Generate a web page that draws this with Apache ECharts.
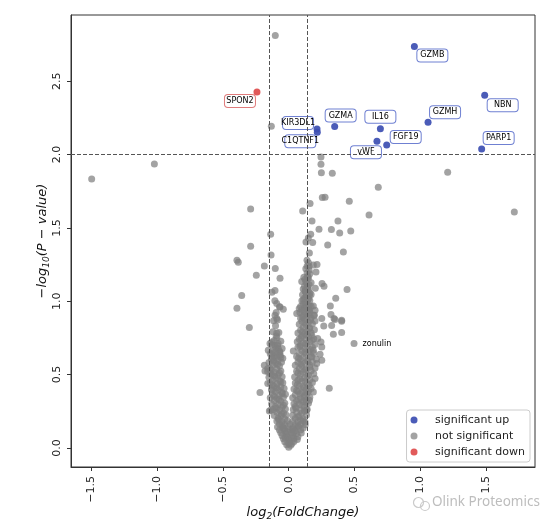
<!DOCTYPE html>
<html><head><meta charset="utf-8">
<script src="https://cdn.jsdelivr.net/npm/echarts@6/dist/echarts.min.js"></script>
<style>html,body{margin:0;padding:0;background:#fff}#c{width:554px;height:522px}</style>
</head><body><div id="c"></div>
<script>
// ---------- data ----------
const upGenes = ['GZMB','NBN','GZMH','IL16','GZMA','KIR3DL1','C1QTNF1','FGF19','vWF','PARP1'];
const upLog2FC = [0.954,1.488,1.058,0.696,0.349,0.215,0.217,0.744,0.670,1.465];
const upNegLog10P = [2.738,2.404,2.220,2.177,2.191,2.175,2.152,2.066,2.091,2.038];

const downGenes = ['SPON2'];
const downLog2FC = [-0.241];
const downNegLog10P = [2.427];

const annotatedNsName = 'zonulin';
const annotatedNsLog2FC = 0.496;
const annotatedNsNegLog10P = 0.712;

// not significant: [log2FC, -log10P]
const nsScattered = [
[-0.102,2.813],[-0.132,2.193],[-1.020,1.936],[0.245,1.984],[0.245,1.934],[-1.496,1.834],[0.248,1.877],[0.331,1.873],[1.207,1.879],[0.680,1.777],
[0.255,1.707],[0.276,1.709],[0.460,1.682],[0.162,1.666],[0.106,1.616],[-0.289,1.629],[1.713,1.609],[0.610,1.588],[0.177,1.547],[0.374,1.547],
[0.230,1.491],[0.324,1.489],[0.387,1.466],[0.471,1.479],[-0.137,1.457],[0.167,1.457],[0.149,1.432],[0.131,1.404],[0.182,1.400],[0.296,1.384],
[-0.289,1.375],[0.415,1.336],[0.157,1.329],[-0.134,1.316],[-0.393,1.280],[-0.383,1.266],[0.139,1.280],[-0.185,1.241],[0.154,1.239],[0.215,1.250],
[0.187,1.247],[-0.102,1.223],[0.207,1.200],[-0.246,1.177],[-0.066,1.157],[0.144,1.164],[0.099,1.134],[0.137,1.121],[0.253,1.121],[0.268,1.102],
[0.202,1.089],[0.443,1.080],[-0.127,1.061],[-0.104,1.073],[0.124,1.070],[0.157,1.039],[0.131,1.029],[-0.357,1.039],[0.357,1.020],[0.111,1.011],
[0.316,0.968],[-0.393,0.952],[-0.091,0.984],[-0.066,0.961],[-0.041,0.945],[0.080,0.950],[0.124,0.961],[0.157,0.939],[0.187,0.968],[0.200,0.939],
[0.321,0.909],[0.344,0.882],[0.402,0.870],[0.061,0.916],[-0.104,0.905],[-0.091,0.882],[0.251,0.882],[-0.299,0.821],[-0.091,0.784],[0.195,0.905],
[0.351,0.875],[0.402,0.864],[0.266,0.832],[0.326,0.834],[0.402,0.787],[0.339,0.775],[0.245,0.723],[0.220,0.746],[0.251,0.689],[0.238,0.639],
[0.187,0.666],[0.035,0.661],[-0.129,0.723],[-0.104,0.700],[-0.079,0.678],[-0.129,0.643],[-0.091,0.620],[-0.066,0.654],[-0.218,0.378],[-0.159,0.439],
[0.308,0.407],[-0.147,0.252],[-0.185,0.564],[-0.159,0.541],[-0.180,0.525],[0.187,0.382],[0.251,0.598],[0.213,0.575],[0.175,0.620],[0.157,0.325],
[0.200,0.473],[0.137,0.257],[0.124,0.177],[-0.142,0.712],[-0.155,0.666],[-0.142,0.507],[-0.129,0.393],[-0.137,0.257]
];
const nsRightArm = [
[0.05,0.201],[0.11,0.197],[0.03,0.223],[0.08,0.218],[0.135,0.224],[0.06,0.243],[0.10,0.238],[0.035,0.262],[0.09,0.257],[0.14,0.264],
[0.05,0.283],[0.12,0.278],[0.04,0.302],[0.08,0.298],[0.15,0.305],[0.06,0.322],[0.11,0.317],[0.13,0.326],[0.03,0.343],[0.09,0.338],
[0.16,0.345],[0.05,0.362],[0.12,0.357],[0.07,0.384],[0.10,0.378],[0.15,0.386],[0.04,0.401],[0.13,0.397],[0.17,0.405],[0.08,0.422],
[0.11,0.417],[0.05,0.443],[0.14,0.438],[0.18,0.446],[0.07,0.462],[0.10,0.457],[0.16,0.465],[0.045,0.483],[0.12,0.478],[0.09,0.502],
[0.15,0.497],[0.19,0.505],[0.06,0.523],[0.11,0.518],[0.17,0.526],[0.08,0.542],[0.13,0.537],[0.20,0.545],[0.05,0.563],[0.10,0.558],
[0.16,0.566],[0.07,0.584],[0.12,0.578],[0.18,0.586],[0.09,0.603],[0.14,0.597],[0.21,0.605],[0.06,0.624],[0.11,0.618],[0.17,0.627],
[0.08,0.643],[0.13,0.638],[0.19,0.646],[0.10,0.663],[0.15,0.657],[0.07,0.684],[0.12,0.678],[0.18,0.686],[0.09,0.703],[0.14,0.697],
[0.20,0.705],[0.065,0.724],[0.11,0.718],[0.16,0.726],[0.08,0.743],[0.13,0.737],[0.19,0.745],[0.10,0.764],[0.15,0.758],[0.175,0.766],
[0.07,0.783],[0.12,0.778],[0.17,0.786],[0.09,0.803],[0.14,0.797],[0.195,0.805],[0.11,0.823],[0.16,0.817],[0.08,0.844],[0.13,0.838],
[0.18,0.846],[0.10,0.863],[0.15,0.857],[0.20,0.865],[0.09,0.884],[0.12,0.878],[0.17,0.886],[0.11,0.903],[0.14,0.897],[0.19,0.905],
[0.085,0.924],[0.13,0.918],[0.16,0.926],[0.10,0.943],[0.15,0.937],[0.09,0.964],[0.12,0.958],[0.17,0.966],[0.11,0.983],[0.14,0.977],
[0.10,1.003],[0.13,0.997],[0.16,1.005],[0.12,1.023],[0.15,1.017],[0.105,1.044],[0.14,1.038],[0.17,1.046],[0.13,1.063],[0.16,1.057],
[0.11,1.083],[0.15,1.077],[0.12,1.103],[0.14,1.097],[0.13,1.133],[0.17,1.127],[0.115,1.163],[0.15,1.157],[0.14,1.193],[0.16,1.187],
[0.13,1.222],[0.15,1.262],
[0.07,0.212],[0.12,0.251],[0.055,0.272],[0.10,0.291],[0.13,0.311],[0.075,0.331],[0.12,0.349],[0.085,0.369],[0.14,0.372],[0.06,0.392],
[0.115,0.409],[0.155,0.428],[0.065,0.431],[0.125,0.451],[0.085,0.472],[0.14,0.489],[0.07,0.511],[0.125,0.529],[0.16,0.551],[0.095,0.571],
[0.145,0.591],[0.075,0.612],[0.125,0.652],[0.165,0.671],[0.085,0.691],[0.13,0.712],[0.175,0.732],[0.095,0.752],[0.14,0.771],[0.105,0.792],
[0.155,0.812],[0.125,0.852],[0.165,0.872],[0.105,0.892],[0.145,0.911],[0.115,0.932],[0.135,0.952],[0.155,0.972],[0.125,0.991],[0.145,1.012],
[0.135,1.052],[0.125,1.072],[0.145,1.092],[0.155,1.112],[0.125,1.151],[0.145,1.171],[0.155,1.211],[0.14,1.241]
];
const nsLeftArm = [
[-0.08,0.203],[-0.03,0.198],[-0.11,0.222],[-0.06,0.217],[-0.02,0.225],[-0.09,0.243],[-0.04,0.238],[-0.12,0.262],[-0.07,0.257],[-0.025,0.265],
[-0.10,0.283],[-0.05,0.278],[-0.13,0.302],[-0.08,0.297],[-0.03,0.305],[-0.11,0.323],[-0.06,0.318],[-0.14,0.342],[-0.09,0.337],[-0.04,0.345],
[-0.12,0.363],[-0.07,0.358],[-0.025,0.366],[-0.10,0.383],[-0.05,0.378],[-0.13,0.402],[-0.08,0.397],[-0.035,0.405],[-0.11,0.423],[-0.06,0.418],
[-0.14,0.442],[-0.09,0.437],[-0.045,0.445],[-0.12,0.463],[-0.07,0.458],[-0.15,0.482],[-0.10,0.477],[-0.05,0.485],[-0.13,0.503],[-0.08,0.498],
[-0.16,0.522],[-0.11,0.517],[-0.06,0.525],[-0.14,0.543],[-0.09,0.538],[-0.12,0.563],[-0.07,0.558],[-0.15,0.582],[-0.10,0.577],[-0.055,0.585],
[-0.13,0.603],[-0.08,0.598],[-0.11,0.623],[-0.06,0.618],[-0.14,0.643],[-0.09,0.638],[-0.12,0.663],[-0.07,0.658],[-0.10,0.683],[-0.05,0.678],
[-0.13,0.703],[-0.085,0.698],[-0.11,0.733],[-0.06,0.727],[-0.095,0.763],[-0.12,0.793],[-0.075,0.787],[-0.10,0.833],[-0.085,0.873],[-0.115,0.867],
[-0.095,0.923],[-0.07,0.963],[-0.105,1.003],
[-0.055,0.232],[-0.095,0.271],[-0.04,0.291],[-0.075,0.331],[-0.11,0.352],[-0.05,0.371],[-0.09,0.411],[-0.125,0.431],[-0.06,0.451],[-0.105,0.491],
[-0.07,0.511],[-0.135,0.531],[-0.085,0.571],[-0.115,0.592],[-0.065,0.632],[-0.105,0.652],[-0.08,0.712],[-0.13,0.612],[-0.045,0.611],[-0.09,0.751]
];
const nsBottom = [
[-0.09,0.183],[-0.05,0.178],[-0.01,0.185],[0.03,0.181],[0.07,0.176],[0.11,0.184],[-0.07,0.163],[-0.03,0.158],[0.01,0.164],[0.05,0.157],
[0.09,0.162],[0.125,0.158],[-0.085,0.143],[-0.045,0.137],[-0.005,0.144],[0.035,0.138],[0.075,0.142],[0.11,0.136],[-0.07,0.123],[-0.03,0.118],
[0.01,0.124],[0.05,0.117],[0.09,0.122],[-0.06,0.103],[-0.02,0.097],[0.02,0.104],[0.06,0.098],[0.095,0.102],[-0.05,0.083],[-0.01,0.078],
[0.03,0.084],[0.07,0.077],[-0.04,0.063],[0.0,0.058],[0.04,0.064],[0.065,0.057],[-0.03,0.043],[0.01,0.038],[0.04,0.044],[-0.015,0.022],
[0.015,0.018],[0.0,0.005],
[-0.075,0.192],[0.09,0.191],[-0.05,0.151],[0.07,0.149],[-0.035,0.131],[0.03,0.129],[-0.01,0.109],[0.04,0.111],[-0.025,0.071],[0.02,0.069],
[0.0,0.031],[0.025,0.03]
];

const xTicks = [-1.5,-1.0,-0.5,0.0,0.5,1.0,1.5];
const yTicks = [0.0,0.5,1.0,1.5,2.0,2.5];
const fcThresholds = [-0.152, 0.1375];
const pThreshold = 2;

// ---------- styles ----------
const labelOffsets = {
  GZMB:[18,9], NBN:[18,10], GZMH:[17,-10], IL16:[0,-12], GZMA:[6,-11],
  KIR3DL1:[-19,-6], C1QTNF1:[-17,9], FGF19:[19,-8], vWF:[-11,11], PARP1:[17,-11], SPON2:[-17,9]
};
const FONT = 'DejaVu Sans';
const fmt = v => (Math.abs(v) < 1e-9 ? '0.0' : v.toFixed(1).replace('-', '\u2212'));

function boxLabel(name, border){
  return {
    show:true, formatter:name, position:'inside', offset:labelOffsets[name],
    fontFamily:FONT, fontSize:8, color:'#000', lineHeight:9, opacity:1,
    backgroundColor:'#fff', borderColor:border, borderWidth:1, borderRadius:3,
    padding:[1.5,1], width:28, align:'center'
  };
}

const upData = upGenes.map((g,i)=>({name:g, value:[upLog2FC[i], upNegLog10P[i]], label:boxLabel(g,'#6f80d2')}));
const downData = downGenes.map((g,i)=>({name:g, value:[downLog2FC[i], downNegLog10P[i]], label:boxLabel(g,'#e07b7b')}));
const nsData = nsScattered.concat(nsRightArm, nsLeftArm, nsBottom).map(p=>({value:p}));
nsData.push({name:annotatedNsName, value:[annotatedNsLog2FC, annotatedNsNegLog10P],
  label:{show:true, formatter:annotatedNsName, position:'right', offset:[-2,-8], fontFamily:FONT, fontSize:8, color:'#000', opacity:1}});

const chart = echarts.init(document.getElementById('c'), null, {renderer:'canvas'});
chart.setOption({
  animation:false,
  backgroundColor:'#fff',
  grid:{left:71, top:15, right:19, bottom:55, show:true, borderColor:'#333', borderWidth:1, backgroundColor:'transparent',
        containLabel:false, outerBoundsMode:'none'},
  xAxis:{
    type:'value', min:-1.653, max:1.87,
    axisLine:{show:true, onZero:false, lineStyle:{color:'#333'}},
    axisTick:{show:true, length:4, customValues:xTicks, lineStyle:{color:'#333'}},
    axisLabel:{show:true, customValues:xTicks, rotate:90, margin:9, fontFamily:FONT, fontSize:11, color:'#222', formatter:fmt},
    splitLine:{show:false},
    name:'{i|log}{s|2}{i|(FoldChange)}', nameLocation:'middle', nameGap:38, nameMoveOverlap:false,
    nameTextStyle:{rich:{
      i:{fontFamily:FONT, fontSize:13, fontStyle:'italic', color:'#111', lineHeight:16},
      s:{fontFamily:FONT, fontSize:9, fontStyle:'italic', color:'#111', lineHeight:10, verticalAlign:'bottom'}
    }}
  },
  yAxis:{
    type:'value', min:-0.13, max:2.952,
    axisLine:{show:true, onZero:false, lineStyle:{color:'#333'}},
    axisTick:{show:true, length:4, customValues:yTicks, lineStyle:{color:'#333'}},
    axisLabel:{show:true, customValues:yTicks, rotate:90, margin:8, fontFamily:FONT, fontSize:11, color:'#222', formatter:fmt},
    splitLine:{show:false},
    name:'{i|\u2212log}{s|10}{i|(P \u2212 value)}', nameLocation:'middle', nameGap:20, nameRotate:90, nameMoveOverlap:false,
    nameTextStyle:{rich:{
      i:{fontFamily:FONT, fontSize:13, fontStyle:'italic', color:'#111', lineHeight:16},
      s:{fontFamily:FONT, fontSize:9, fontStyle:'italic', color:'#111', lineHeight:10, verticalAlign:'bottom'}
    }}
  },
  legend:{
    orient:'vertical', right:24, bottom:60,
    data:['significant up','not significant','significant down'],
    icon:'circle', itemWidth:22, itemHeight:7, itemGap:4,
    padding:[4,5,4,4], borderColor:'#ccc', borderWidth:1, borderRadius:3, backgroundColor:'#fff',
    textStyle:{fontFamily:FONT, fontSize:11, color:'#222', lineHeight:12, padding:[0,0,0,5]},
    z:10
  },
  graphic:[
    {type:'circle', left:411, top:495, shape:{r:5}, style:{fill:'none', stroke:'#cacaca', lineWidth:1.2}},
    {type:'circle', left:418, top:499, shape:{r:4.5}, style:{fill:'none', stroke:'#cacaca', lineWidth:1.2}},
    {type:'text', left:432, top:495, style:{text:'Olink Proteomics', fontFamily:'Noto Sans', fontSize:13.5, fill:'#bdbdbd'}}
  ],
  series:[
    {
      name:'thresholds', type:'scatter', data:[], z:1, silent:true,
      markLine:{silent:true, symbol:['none','none'], label:{show:false}, animation:false,
        lineStyle:{type:[4,2], color:'#555', width:1},
        data:[{xAxis:fcThresholds[0]},{xAxis:fcThresholds[1]},{yAxis:pThreshold}]}
    },
    {name:'not significant', type:'scatter', symbolSize:7, z:2, data:nsData,
      itemStyle:{color:'rgba(128,128,128,0.72)', opacity:1}, labelLayout:{hideOverlap:false}},
    {name:'significant up', type:'scatter', symbolSize:7, z:3, data:upData,
      itemStyle:{color:'rgba(60,78,178,0.92)', opacity:1}},
    {name:'significant down', type:'scatter', symbolSize:7, z:3, data:downData,
      itemStyle:{color:'rgba(222,76,76,0.92)', opacity:1}}
  ]
});
</script>
</body></html>
